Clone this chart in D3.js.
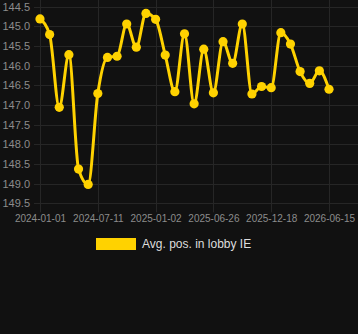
<!DOCTYPE html>
<html>
<head>
<meta charset="utf-8">
<script src="https://cdn.jsdelivr.net/npm/d3@7"></script>
<style>
  html, body { margin: 0; padding: 0; background: #111111; }
  svg { display: block; }
</style>
</head>
<body>
<svg id="chart"></svg>
<script>
const dates = [
  "2024-01-01", "2024-02-02", "2024-03-05", "2024-04-06", "2024-05-08", "2024-06-09",
  "2024-07-11", "2024-08-09", "2024-09-07", "2024-10-06", "2024-11-04", "2024-12-03",
  "2025-01-02", "2025-01-31", "2025-03-01", "2025-03-30", "2025-04-28", "2025-05-27",
  "2025-06-26", "2025-07-25", "2025-08-23", "2025-09-21", "2025-10-20", "2025-11-18",
  "2025-12-18", "2026-01-16", "2026-02-14", "2026-03-15", "2026-04-14", "2026-05-15",
  "2026-06-15"
];
const avgPos = [
  144.81, 145.21, 147.06, 145.72, 148.63, 149.02,
  146.71, 145.79, 145.76, 144.94, 145.53, 144.67,
  144.82, 145.73, 146.66, 145.19, 146.97, 145.58,
  146.69, 145.39, 145.94, 144.94, 146.72, 146.53,
  146.56, 145.16, 145.45, 146.15, 146.45, 146.13,
  146.60
];
const tickDates = ["2024-01-01", "2024-07-11", "2025-01-02", "2025-06-26", "2025-12-18", "2026-06-15"];
const yTicks = [144.5, 145.0, 145.5, 146.0, 146.5, 147.0, 147.5, 148.0, 148.5, 149.0, 149.5];
const seriesName = "Avg. pos. in lobby IE";

const width = 358, height = 334;
const margin = { top: 6.7, right: 29, bottom: 130.7, left: 40 };
const lineColor = "#ffd200";
const gridColor = "#262626";
const textColor = "#8c8c8c";

const svg = d3.select("#chart")
  .attr("width", width)
  .attr("height", height);

svg.append("rect")
  .attr("width", width)
  .attr("height", height)
  .attr("fill", "#111111");

const xScale = d3.scalePoint()
  .domain(dates)
  .range([margin.left, width - margin.right]);

const yScale = d3.scaleLinear()
  .domain([144.5, 149.5])
  .range([margin.top, height - margin.bottom]);

const plotBottom = height - margin.bottom;

// ===== GRID =====
svg.append("g")
  .selectAll("line")
  .data(yTicks)
  .join("line")
  .attr("x1", 34)
  .attr("x2", width)
  .attr("y1", d => Math.round(yScale(d)) + 0.5)
  .attr("y2", d => Math.round(yScale(d)) + 0.5)
  .attr("stroke", gridColor)
  .attr("stroke-width", 1);

svg.append("g")
  .selectAll("line")
  .data(tickDates)
  .join("line")
  .attr("x1", d => Math.round(xScale(d)) + 0.5)
  .attr("x2", d => Math.round(xScale(d)) + 0.5)
  .attr("y1", 0)
  .attr("y2", plotBottom + 9)
  .attr("stroke", gridColor)
  .attr("stroke-width", 1);

// ===== AXES =====
const yAxis = svg.append("g")
  .attr("transform", `translate(${margin.left},0)`)
  .call(d3.axisLeft(yScale).tickValues(yTicks).tickFormat(d3.format(".1f")).tickSize(0).tickPadding(10));
yAxis.select(".domain").remove();
yAxis.selectAll("text")
  .attr("fill", textColor)
  .attr("font-family", "Liberation Sans, Arial, sans-serif")
  .attr("font-size", 11);

const xAxis = svg.append("g")
  .attr("transform", `translate(0,${plotBottom})`)
  .call(d3.axisBottom(xScale).tickValues(tickDates).tickSize(0).tickPadding(12));
xAxis.select(".domain").remove();
xAxis.selectAll("text")
  .attr("fill", textColor)
  .attr("font-family", "Liberation Sans, Arial, sans-serif")
  .attr("font-size", 10);

// ===== LINE =====
const line = d3.line()
  .x((d, i) => xScale(dates[i]))
  .y(d => yScale(d))
  .curve(d3.curveMonotoneX);

svg.append("path")
  .datum(avgPos)
  .attr("fill", "none")
  .attr("stroke", lineColor)
  .attr("stroke-width", 3)
  .attr("d", line);

svg.append("g")
  .selectAll("circle")
  .data(avgPos)
  .join("circle")
  .attr("cx", (d, i) => xScale(dates[i]))
  .attr("cy", d => yScale(d))
  .attr("r", 4.6)
  .attr("fill", lineColor);

// ===== LEGEND =====
const legend = svg.append("g")
  .attr("transform", "translate(96,238)");

legend.append("rect")
  .attr("width", 40)
  .attr("height", 12)
  .attr("fill", lineColor);

legend.append("text")
  .attr("x", 46)
  .attr("y", 10)
  .attr("fill", "#dddddd")
  .attr("font-family", "Liberation Sans, Arial, sans-serif")
  .attr("font-size", 12)
  .text(seriesName);
</script>
</body>
</html>
